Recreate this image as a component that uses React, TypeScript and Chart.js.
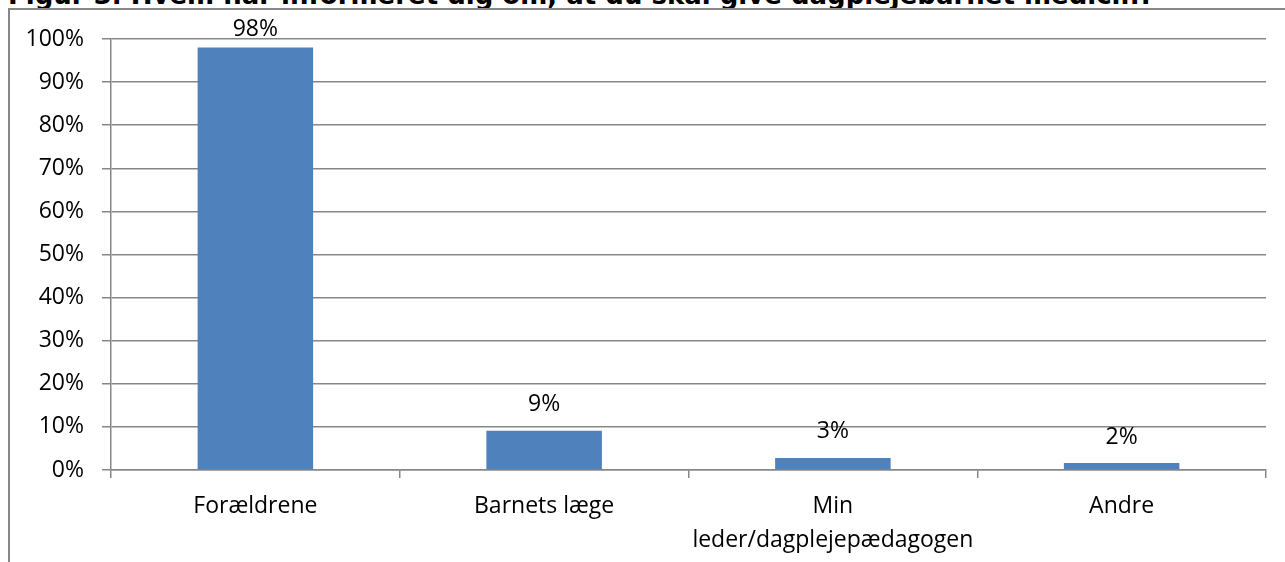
// Figur 3 — bar chart of who told the childminder to give medicine.
import { useEffect, useRef } from 'react';
import { Chart, registerables } from 'chart.js';
import type { ChartConfiguration, Plugin } from 'chart.js';

Chart.register(...registerables);

const TITLE = 'Figur 3. Hvem har informeret dig om, at du skal give dagplejebarnet medicin?';
const categories: (string | string[])[] = [
  'Forældrene',
  'Barnets læge',
  ['Min', 'leder/dagplejepædagogen'],
  'Andre',
];
const shares = [98, 9.1, 2.8, 1.6];
const yTicks = [0, 10, 20, 30, 40, 50, 60, 70, 80, 90, 100];

const GRID = '#878787';
const BAR = '#4f81bd';
const FONT = '"Open Sans", "Noto Sans", sans-serif';
const SIZE = 23;

// Percent labels over each bar; kept from running above the plot top.
const barLabels: Plugin<'bar'> = {
  id: 'barLabels',
  afterDatasetsDraw(chart) {
    const { ctx, chartArea } = chart;
    const meta = chart.getDatasetMeta(0);
    ctx.save();
    ctx.font = `${SIZE}px ${FONT}`;
    ctx.fillStyle = '#000';
    ctx.textAlign = 'center';
    ctx.textBaseline = 'middle';
    meta.data.forEach((bar, i) => {
      const y = Math.max(bar.y - 26, chartArea.top - 9.5);
      ctx.fillText(Math.round(shares[i]) + '%', bar.x, y);
    });
    ctx.restore();
  },
};

export default function App() {
  const canvasRef = useRef<HTMLCanvasElement>(null);

  useEffect(() => {
    const canvas = canvasRef.current;
    if (!canvas) return;

    const config: ChartConfiguration<'bar'> = {
      type: 'bar',
      data: {
        labels: categories,
        datasets: [
          {
            data: shares,
            backgroundColor: BAR,
            barPercentage: 0.4,
            categoryPercentage: 1,
          },
        ],
      },
      options: {
        responsive: false,
        animation: false,
        layout: { padding: { left: 0, top: 39, right: 19, bottom: 0 } },
        plugins: {
          legend: { display: false },
          tooltip: { enabled: false },
        },
        scales: {
          x: {
            grid: {
              offset: true,
              drawOnChartArea: false,
              drawTicks: true,
              tickLength: 8,
              color: GRID,
              lineWidth: 1.5,
            },
            border: { color: GRID, width: 1.5 },
            ticks: {
              color: '#000',
              padding: 11,
              maxRotation: 0,
              autoSkip: false,
              font: { family: FONT, size: SIZE, lineHeight: 1.5 },
            },
            afterFit(scale) {
              scale.height = 92;
            },
          },
          y: {
            min: 0,
            max: 100,
            afterBuildTicks(scale) {
              scale.ticks = yTicks.map((value) => ({ value }));
            },
            grid: {
              color: GRID,
              lineWidth: 1.5,
              tickLength: 9,
            },
            border: { color: GRID, width: 1.5 },
            ticks: {
              color: '#000',
              padding: 18,
              font: { family: FONT, size: SIZE },
              callback: (v) => v + '%',
            },
            afterFit(scale) {
              scale.width = 111;
            },
          },
        },
      },
      plugins: [barLabels],
    };

    const chart = new Chart(canvas, config);
    return () => chart.destroy();
  }, []);

  return (
    <div
      style={{
        position: 'fixed',
        left: 0,
        top: 0,
        width: 1285,
        height: 562,
        overflow: 'hidden',
        background: '#fff',
      }}
    >
      <div
        style={{
          position: 'absolute',
          left: 8,
          top: -18,
          whiteSpace: 'nowrap',
          font: 'bold 26px/26px "DejaVu Sans", sans-serif',
          color: '#000',
        }}
      >
        {TITLE}
      </div>
      <div
        style={{
          position: 'absolute',
          left: 8,
          top: 8,
          width: 1300,
          height: 600,
          borderTop: `2px solid ${GRID}`,
          borderLeft: `2px solid ${GRID}`,
        }}
      />
      <canvas
        ref={canvasRef}
        width={1285}
        height={562}
        style={{ position: 'absolute', left: 0, top: 0, width: 1285, height: 562 }}
      />
    </div>
  );
}
